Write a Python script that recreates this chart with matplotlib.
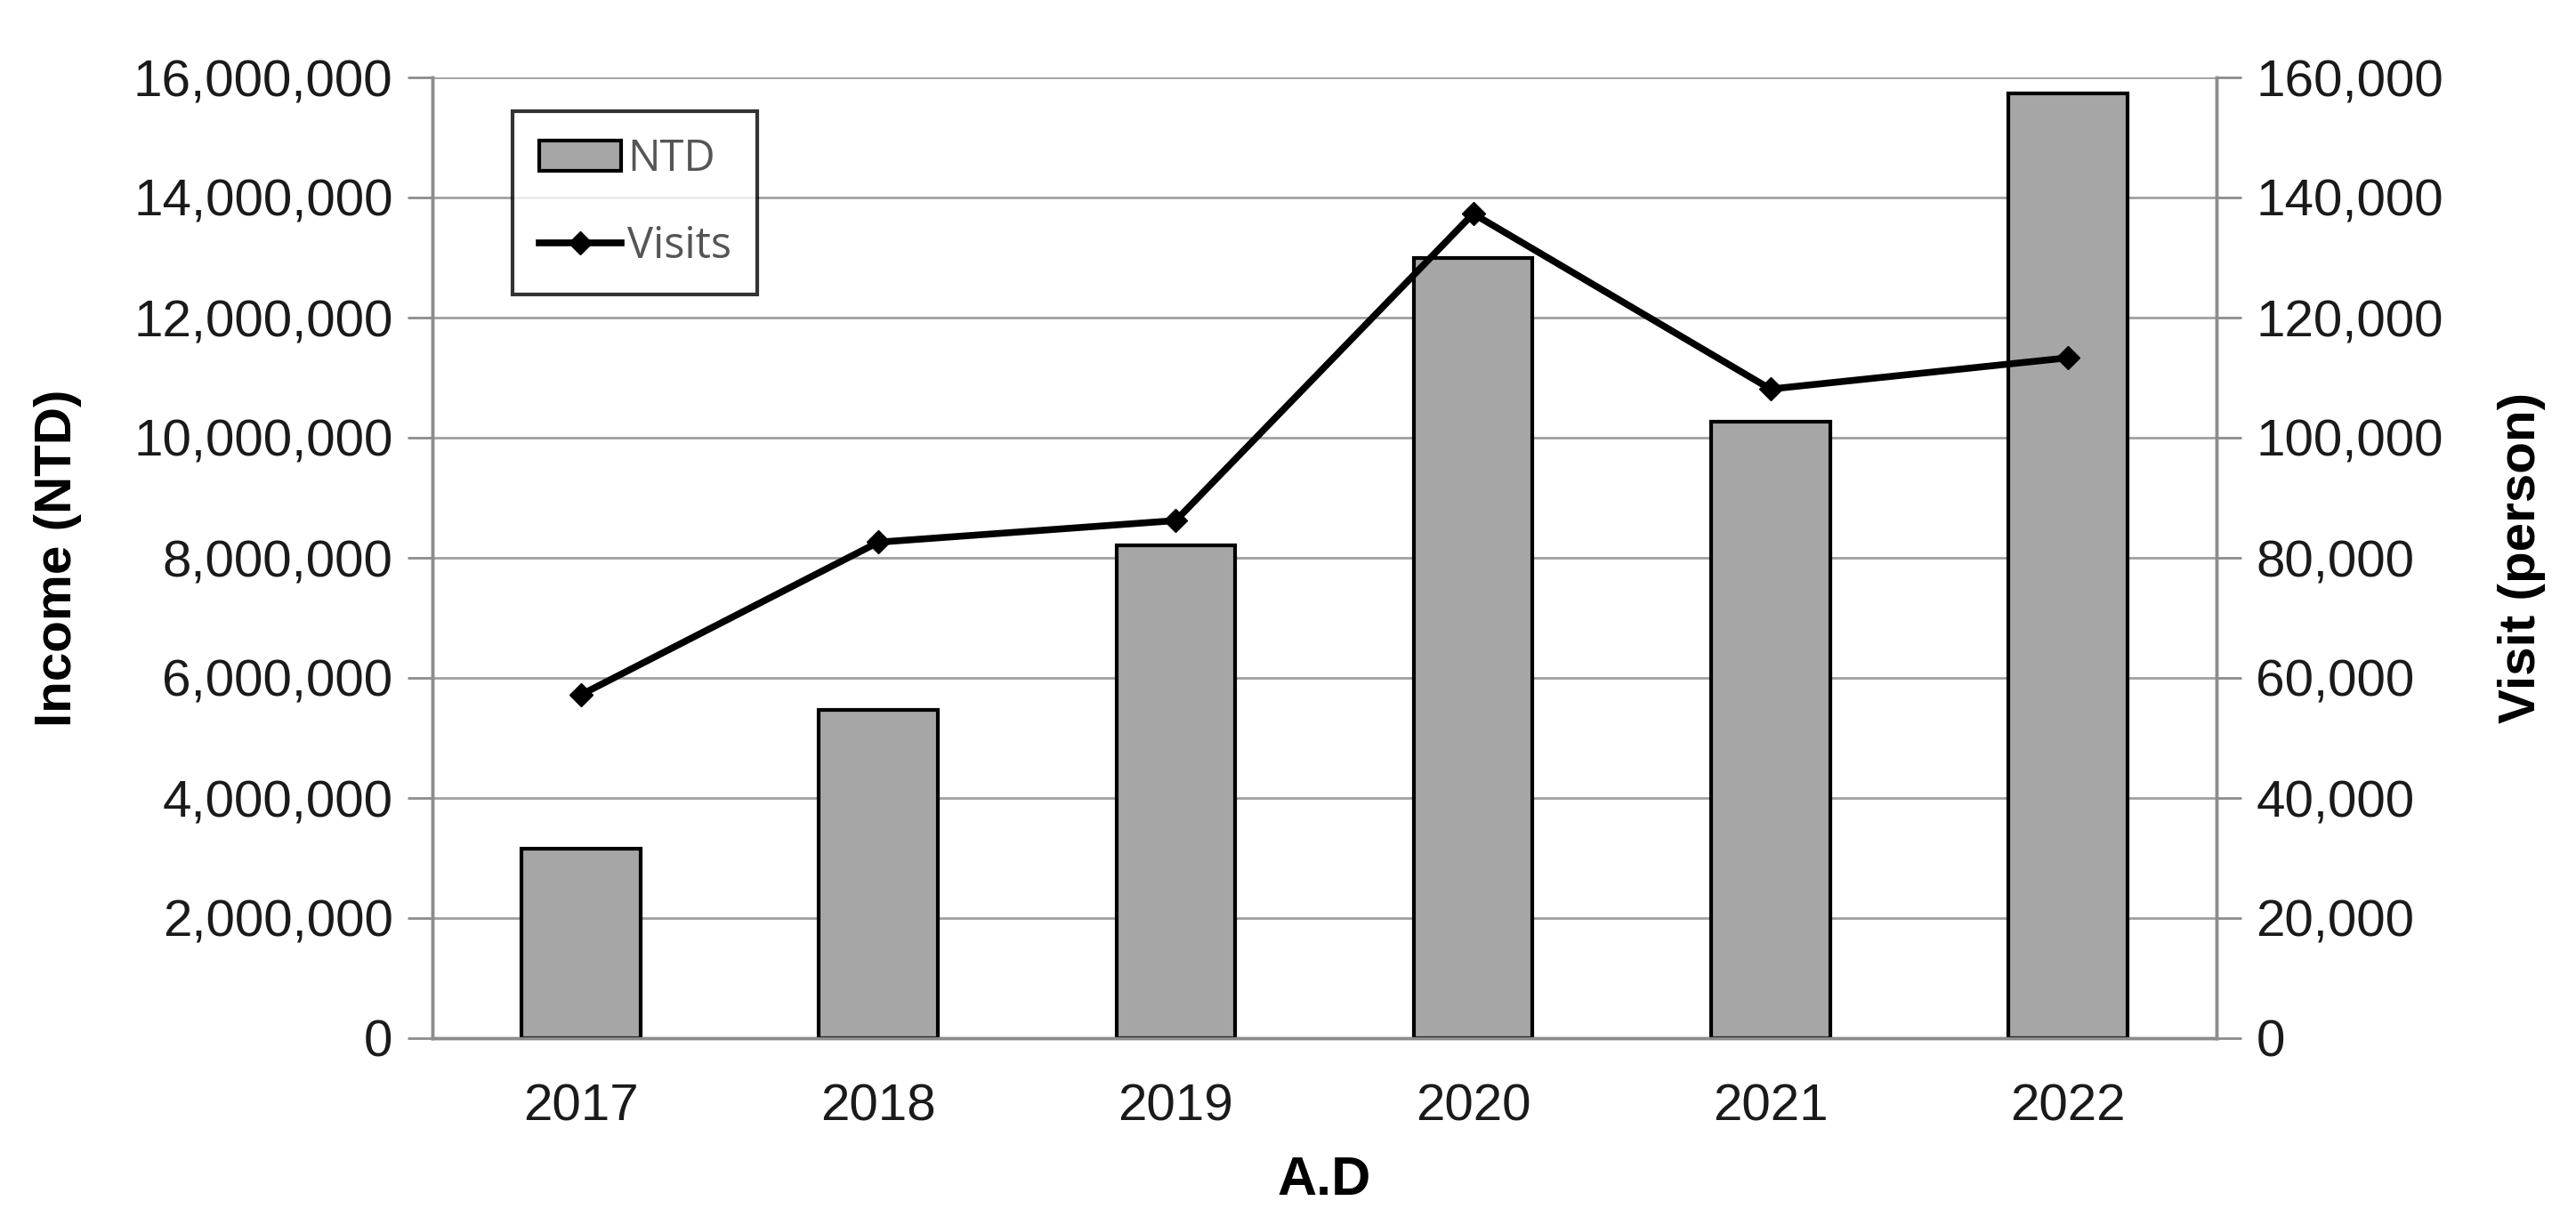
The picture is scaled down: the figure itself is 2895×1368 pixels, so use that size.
import matplotlib
matplotlib.use("Agg")
from matplotlib import pyplot as plt
from matplotlib.ticker import FuncFormatter
import numpy as np

years = ["2017", "2018", "2019", "2020", "2021", "2022"]
income = [3150000, 5470000, 8210000, 13000000, 10260000, 15730000]
visits = [57200, 82600, 86200, 137300, 108100, 113300]

plt.rcParams['font.family'] = ['Liberation Sans', 'DejaVu Sans']

fig = plt.figure(figsize=(28.95, 13.68), dpi=100)
ax = fig.add_axes([486/2895, 1 - 1167/1368, (2491-486)/2895, (1167-87)/1368])
ax2 = ax.twinx()

x = np.arange(len(years))
bars = ax.bar(x, income, width=0.4, color="#a6a6a6", edgecolor="black", linewidth=3, label="NTD", zorder=3)
line, = ax2.plot(x, visits, color="black", linewidth=5.5, marker="D", markersize=13, label="Visits", zorder=4)

ax.set_xlim(-0.5, len(years) - 0.5)
ax.set_ylim(0, 16000000)
ax2.set_ylim(0, 160000)
ax.set_yticks(np.arange(0, 16000001, 2000000))
ax2.set_yticks(np.arange(0, 160001, 20000))
ax.yaxis.set_major_formatter(FuncFormatter(lambda v, p: "{:,.0f}".format(v)))
ax2.yaxis.set_major_formatter(FuncFormatter(lambda v, p: "{:,.0f}".format(v)))
ax.set_xticks(x)
ax.set_xticklabels(years)

ax.grid(axis="y", color="#a0a0a0", linewidth=2, zorder=0)
for a in (ax, ax2):
    for sp in ["left", "right", "bottom"]:
        a.spines[sp].set_color("#8c8c8c")
        a.spines[sp].set_linewidth(2.5)
    a.spines["top"].set_visible(False)

ax.tick_params(axis="y", labelsize=42, length=20, width=2, color="#8c8c8c", pad=12, labelcolor="#1a1a1a")
ax2.tick_params(axis="y", labelsize=42, length=20, width=2, color="#8c8c8c", pad=12, labelcolor="#1a1a1a")
ax.tick_params(axis="x", labelsize=42, length=0, pad=36, labelcolor="#1a1a1a")

label_font = ['Liberation Sans Narrow', 'Liberation Sans', 'DejaVu Sans']
ax.set_ylabel("Income (NTD)", fontsize=42, fontweight="bold", family=label_font, labelpad=42)
ax2.set_ylabel("Visit (person)", fontsize=42, fontweight="bold", family=label_font, labelpad=44)
ax.set_xlabel("A.D", fontsize=44, fontweight="bold", family=label_font, labelpad=20)

leg = ax.legend([bars, line], ["NTD", "Visits"], loc="upper left", bbox_to_anchor=(0.033, 0.987),
                frameon=True, fancybox=False, edgecolor="black",
                handlelength=1.9, handletextpad=0.15, borderpad=0.6, labelspacing=1.0,
                prop={'family': ['Open Sans', 'DejaVu Sans'], 'size': 35})
leg.get_frame().set_linewidth(3)
for t in leg.get_texts():
    t.set_color("#555555")

plt.savefig("out.png", dpi=100)
